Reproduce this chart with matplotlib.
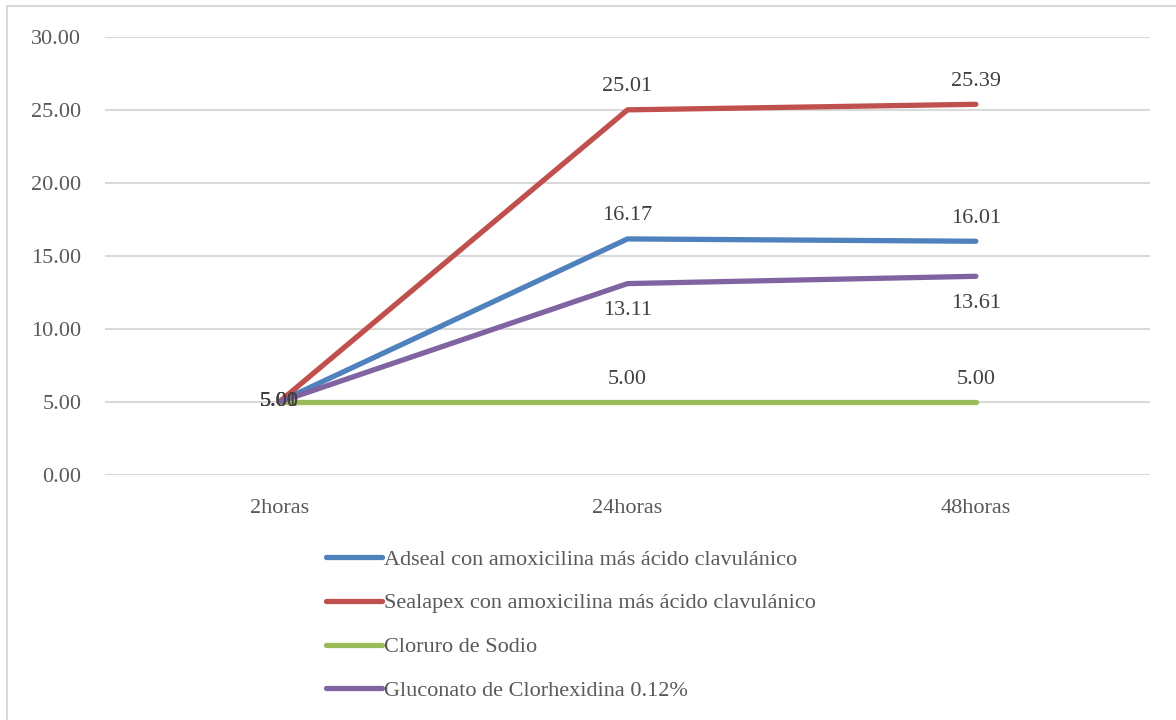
import matplotlib
matplotlib.use("Agg")
import matplotlib.pyplot as plt
from matplotlib.patches import Rectangle
from matplotlib.lines import Line2D

categories = ["2horas", "24horas", "48horas"]
series_names = [
    "Adseal con amoxicilina más ácido clavulánico",
    "Sealapex con amoxicilina más ácido clavulánico",
    "Cloruro de Sodio",
    "Gluconato de Clorhexidina 0.12%",
]
adseal = [5.01, 16.17, 16.01]
sealapex = [5.00, 25.01, 25.39]
cloruro = [5.00, 5.00, 5.00]
gluconato = [5.00, 13.11, 13.61]
yticks = [0, 5, 10, 15, 20, 25, 30]

series = [adseal, sealapex, cloruro, gluconato]
colors = ["#4F81BD", "#C0504D", "#9BBB59", "#8064A2"]
# label placement per series for points 2 and 3: above (+) or below (-)
label_dir = [1, 1, 1, -1]

plt.rcParams['font.family'] = ['Liberation Serif', 'DejaVu Serif']
FS = 16

fig = plt.figure(figsize=(11.76, 7.2), dpi=100)
fig.patches.append(Rectangle((7 / 1176, -0.1), 1.2, 1 - 6 / 720 + 0.1, transform=fig.transFigure,
                             fill=False, edgecolor="#d9d9d9", linewidth=1.5, zorder=0))

ax = fig.add_axes([105 / 1176, 1 - 475 / 720, (1150 - 105) / 1176, (475 - 37) / 720])
x = list(range(len(categories)))
for s, c in zip(series, colors):
    ax.plot(x, s, color=c, linewidth=3.8, solid_capstyle="round", solid_joinstyle="round", zorder=3)

# data labels
for i, (s, d) in enumerate(zip(series, label_dir)):
    for j, v in enumerate(s):
        if j == 0:
            ax.annotate(f"{v:.2f}", (x[j], v), xytext=(0, 0), textcoords="offset pixels",
                        ha="center", va="center", fontsize=FS, color="#404040", zorder=4)
        else:
            ax.annotate(f"{v:.2f}", (x[j], v), xytext=(0, 23 if d > 0 else -27),
                        textcoords="offset pixels", ha="center", va="center",
                        fontsize=FS, color="#404040", zorder=4)

ax.set_xlim(-0.5, len(categories) - 0.5)
ax.set_ylim(0, 30)
ax.set_yticks(yticks)
ax.set_yticklabels([f"{t:.2f}" for t in yticks])
ax.set_xticks(x)
ax.set_xticklabels(categories)
ax.tick_params(axis="both", length=0, labelsize=FS, colors="#595959")
ax.tick_params(axis="y", pad=17)
ax.tick_params(axis="x", pad=17)
ax.grid(axis="y", color="#d9d9d9", linewidth=1.5)
ax.set_axisbelow(True)
for sp in ax.spines.values():
    sp.set_visible(False)

handles = [Line2D([0], [0], color=c, linewidth=3.8, solid_capstyle="round") for c in colors]
leg = fig.legend(handles, series_names, loc="upper left", bbox_to_anchor=(326 / 1176, 1 - 549 / 720),
                 frameon=False, fontsize=FS, labelcolor="#595959", handlelength=2.5,
                 handletextpad=0.12, labelspacing=1.05, borderaxespad=0, borderpad=0)

fig.savefig("out.png", dpi=100)
